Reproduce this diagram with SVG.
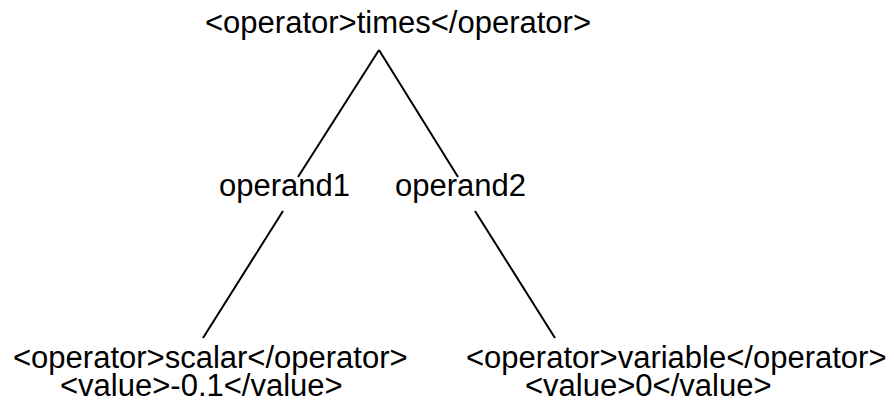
<svg xmlns="http://www.w3.org/2000/svg" width="894" height="408" viewBox="0 0 894 408">
<style>
text{font-family:"Liberation Sans",Arial,sans-serif;font-size:31px;fill:#000}
.c line{stroke:#000;stroke-width:2;stroke-linecap:butt}
</style>
<rect width="894" height="408" fill="#fff"/>
<g class="c" id="connectors">
<line x1="379" y1="50" x2="298" y2="177"/>
<line x1="379" y1="50" x2="458" y2="177"/>
<line x1="283" y1="211" x2="203" y2="338"/>
<line x1="475" y1="211" x2="555" y2="338"/>
</g>
<g id="root"><text x="205" y="33">&lt;operator&gt;times&lt;/operator&gt;</text></g>
<g id="operand1"><text x="219" y="196">operand1</text></g>
<g id="operand2"><text x="395" y="196">operand2</text></g>
<g id="scalar"><text x="13" y="368">&lt;operator&gt;scalar&lt;/operator&gt;</text><text x="60" y="396">&lt;value&gt;-0.1&lt;/value&gt;</text></g>
<g id="variable"><text x="466" y="368">&lt;operator&gt;variable&lt;/operator&gt;</text><text x="525" y="396">&lt;value&gt;0&lt;/value&gt;</text></g>
</svg>
